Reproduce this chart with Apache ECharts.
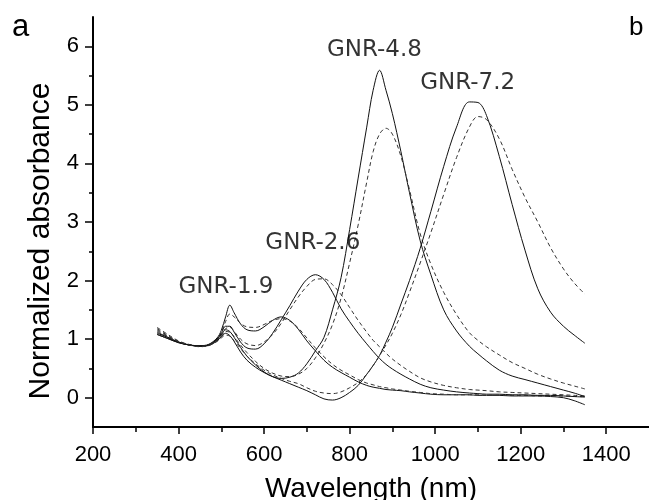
<!DOCTYPE html>
<html>
<head>
<meta charset="utf-8">
<script src="https://cdn.jsdelivr.net/npm/echarts@6/dist/echarts.min.js"></script>
<style>
html,body{margin:0;padding:0;background:#fff;}
#chart{width:649px;height:500px;}
</style>
</head>
<body>
<div id="chart"></div>
<script>
// ---- data ----
const wavelength = [350,375,400,425,450,470,490,500,510,520,530,545,560,580,600,620,640,660,680,700,720,740,760,780,800,820,840,855,870,885,900,920,940,965,990,1020,1050,1080,1100,1120,1150,1180,1210,1240,1270,1300,1325,1350];

const gnr19Solid = [1.10,1.03,0.95,0.90,0.89,0.91,1.02,1.15,1.38,1.58,1.45,1.26,1.16,1.14,1.21,1.32,1.38,1.32,1.17,0.97,0.80,0.64,0.52,0.43,0.35,0.27,0.21,0.18,0.16,0.14,0.13,0.12,0.10,0.08,0.06,0.05,0.05,0.05,0.04,0.04,0.04,0.03,0.03,0.03,0.02,0.00,-0.05,-0.12];
const gnr19Dash  = [1.20,1.08,0.97,0.91,0.88,0.90,1.00,1.12,1.30,1.43,1.38,1.27,1.21,1.20,1.25,1.32,1.35,1.31,1.19,1.02,0.85,0.70,0.57,0.47,0.39,0.31,0.25,0.22,0.19,0.17,0.15,0.13,0.11,0.09,0.07,0.06,0.05,0.05,0.05,0.04,0.04,0.04,0.04,0.03,0.03,0.03,0.02,0.02];

const gnr26Solid = [1.12,1.03,0.95,0.90,0.88,0.90,1.00,1.10,1.22,1.22,1.12,0.95,0.85,0.83,0.92,1.10,1.33,1.57,1.82,2.02,2.10,2.02,1.80,1.52,1.30,1.10,0.92,0.79,0.67,0.57,0.49,0.40,0.32,0.23,0.17,0.13,0.10,0.08,0.07,0.06,0.06,0.05,0.05,0.04,0.04,0.03,0.02,0.01];
const gnr26Dash  = [1.16,1.05,0.96,0.90,0.88,0.90,0.99,1.08,1.18,1.20,1.13,1.00,0.92,0.89,0.95,1.08,1.27,1.50,1.72,1.90,2.02,2.03,1.93,1.76,1.54,1.32,1.12,0.98,0.87,0.76,0.66,0.55,0.45,0.34,0.27,0.21,0.17,0.14,0.13,0.12,0.10,0.09,0.08,0.07,0.06,0.05,0.04,0.03];

const gnr48Solid = [1.08,1.01,0.94,0.90,0.88,0.90,0.99,1.07,1.16,1.13,1.03,0.86,0.71,0.56,0.44,0.36,0.33,0.35,0.42,0.58,0.80,1.03,1.50,2.05,2.87,3.75,4.62,5.25,5.59,5.25,4.85,4.20,3.50,2.68,2.10,1.50,1.14,0.88,0.75,0.63,0.47,0.37,0.31,0.25,0.19,0.13,0.08,0.02];
const gnr48Dash  = [1.14,1.04,0.95,0.90,0.88,0.90,0.98,1.05,1.13,1.12,1.04,0.90,0.77,0.62,0.50,0.42,0.37,0.36,0.40,0.50,0.68,0.93,1.25,1.70,2.30,2.95,3.68,4.20,4.50,4.60,4.50,4.12,3.55,2.80,2.28,1.80,1.42,1.11,0.98,0.87,0.73,0.60,0.50,0.40,0.32,0.25,0.20,0.15];

const gnr72Solid = [1.08,1.01,0.94,0.90,0.88,0.89,0.97,1.04,1.10,1.06,0.96,0.78,0.64,0.52,0.43,0.36,0.30,0.24,0.18,0.12,0.05,-0.02,-0.04,0.00,0.09,0.21,0.40,0.55,0.72,0.95,1.20,1.60,2.00,2.55,3.18,3.95,4.62,5.05,5.04,4.82,4.12,3.30,2.52,1.86,1.46,1.22,1.07,0.93];
const gnr72Dash  = [1.18,1.06,0.96,0.90,0.87,0.89,0.96,1.02,1.07,1.05,0.97,0.84,0.71,0.58,0.47,0.39,0.33,0.28,0.24,0.17,0.11,0.08,0.07,0.10,0.17,0.26,0.40,0.55,0.72,0.90,1.10,1.42,1.80,2.30,2.82,3.47,4.10,4.62,4.80,4.75,4.42,3.90,3.42,3.00,2.56,2.20,1.96,1.77];

const sampleNames = ['GNR-1.9','GNR-2.6','GNR-4.8','GNR-7.2'];
const labelX = [511, 714, 858, 1076];
const labelY = [1.89, 2.64, 5.93, 5.38];

const xTicks = [200,400,600,800,1000,1200,1400];
const yTicks = [0,1,2,3,4,5,6];

// ---- chart ----
function pairs(vals){ return wavelength.map((w,i)=>[w, vals[i]]); }

const solidStyle = {color:'#111', width:1, type:'solid'};
const dashStyle  = {color:'#333', width:1, type:[4,3]};

const solids = [gnr19Solid, gnr26Solid, gnr48Solid, gnr72Solid];
const dashes = [gnr19Dash, gnr26Dash, gnr48Dash, gnr72Dash];

const series = [];
sampleNames.forEach((n,i)=>{
  series.push({name:n+' solid', type:'line', data:pairs(solids[i]), showSymbol:false, smooth:0.35,
    lineStyle:solidStyle, itemStyle:{color:solidStyle.color}, silent:true});
  series.push({name:n+' dashed', type:'line', data:pairs(dashes[i]), showSymbol:false, smooth:0.35,
    lineStyle:dashStyle, itemStyle:{color:dashStyle.color}, silent:true});
});
series.push({
  name:'labels', type:'scatter', symbolSize:0, silent:true, z:5,
  data: sampleNames.map((n,i)=>[labelX[i], labelY[i], n]),
  label:{show:true, position:'inside', formatter:p=>p.data[2],
    fontFamily:'DejaVu Sans', fontSize:23, color:'#000', textBorderWidth:0}
});

const tickFont = {fontFamily:'Liberation Sans, Arial, sans-serif', fontSize:22, color:'#000'};
const chart = echarts.init(document.getElementById('chart'), null, {renderer:'canvas'});
chart.setOption({
  animation:false,
  backgroundColor:'#fff',
  grid:{left:93, right:0, top:17, bottom:73, containLabel:false, outerBoundsMode:'none'},
  xAxis:{
    type:'value', min:200, max:1500, interval:200,
    name:'Wavelength (nm)', nameLocation:'middle', nameGap:48,
    nameTextStyle:{fontFamily:'Liberation Sans, Arial, sans-serif', fontSize:28, color:'#000'},
    axisLine:{show:true, onZero:false, lineStyle:{color:'#000', width:2}},
    axisTick:{show:true, length:7, customValues:xTicks, lineStyle:{color:'#000', width:1.5}},
    minorTick:{show:true, splitNumber:2, length:5, lineStyle:{color:'#000', width:1.5}},
    axisLabel:Object.assign({margin:17, customValues:xTicks, formatter:v=>String(v)}, tickFont),
    splitLine:{show:false}
  },
  yAxis:{
    type:'value', min:-0.5, max:6.5, splitNumber:7,
    name:'Normalized absorbance', nameLocation:'middle', nameGap:36,
    nameTextStyle:{fontFamily:'Liberation Sans, Arial, sans-serif', fontSize:30, color:'#000', padding:[0,38,0,0]},
    axisLine:{show:true, onZero:false, lineStyle:{color:'#000', width:2}},
    axisTick:{show:true, length:8, customValues:yTicks, lineStyle:{color:'#000', width:1.5}},
    minorTick:{show:true, splitNumber:2, length:4, lineStyle:{color:'#000', width:1.5}},
    axisLabel:Object.assign({margin:14, customValues:yTicks, formatter:v=>String(v)}, tickFont),
    splitLine:{show:false}
  },
  graphic:[
    {type:'text', left:12, top:12, style:{text:'a', font:'31px "Liberation Sans", Arial, sans-serif', fill:'#000'}},
    {type:'text', left:629, top:15, style:{text:'b', font:'26px "Liberation Sans", Arial, sans-serif', fill:'#000'}}
  ],
  series:series
});
</script>
</body>
</html>
